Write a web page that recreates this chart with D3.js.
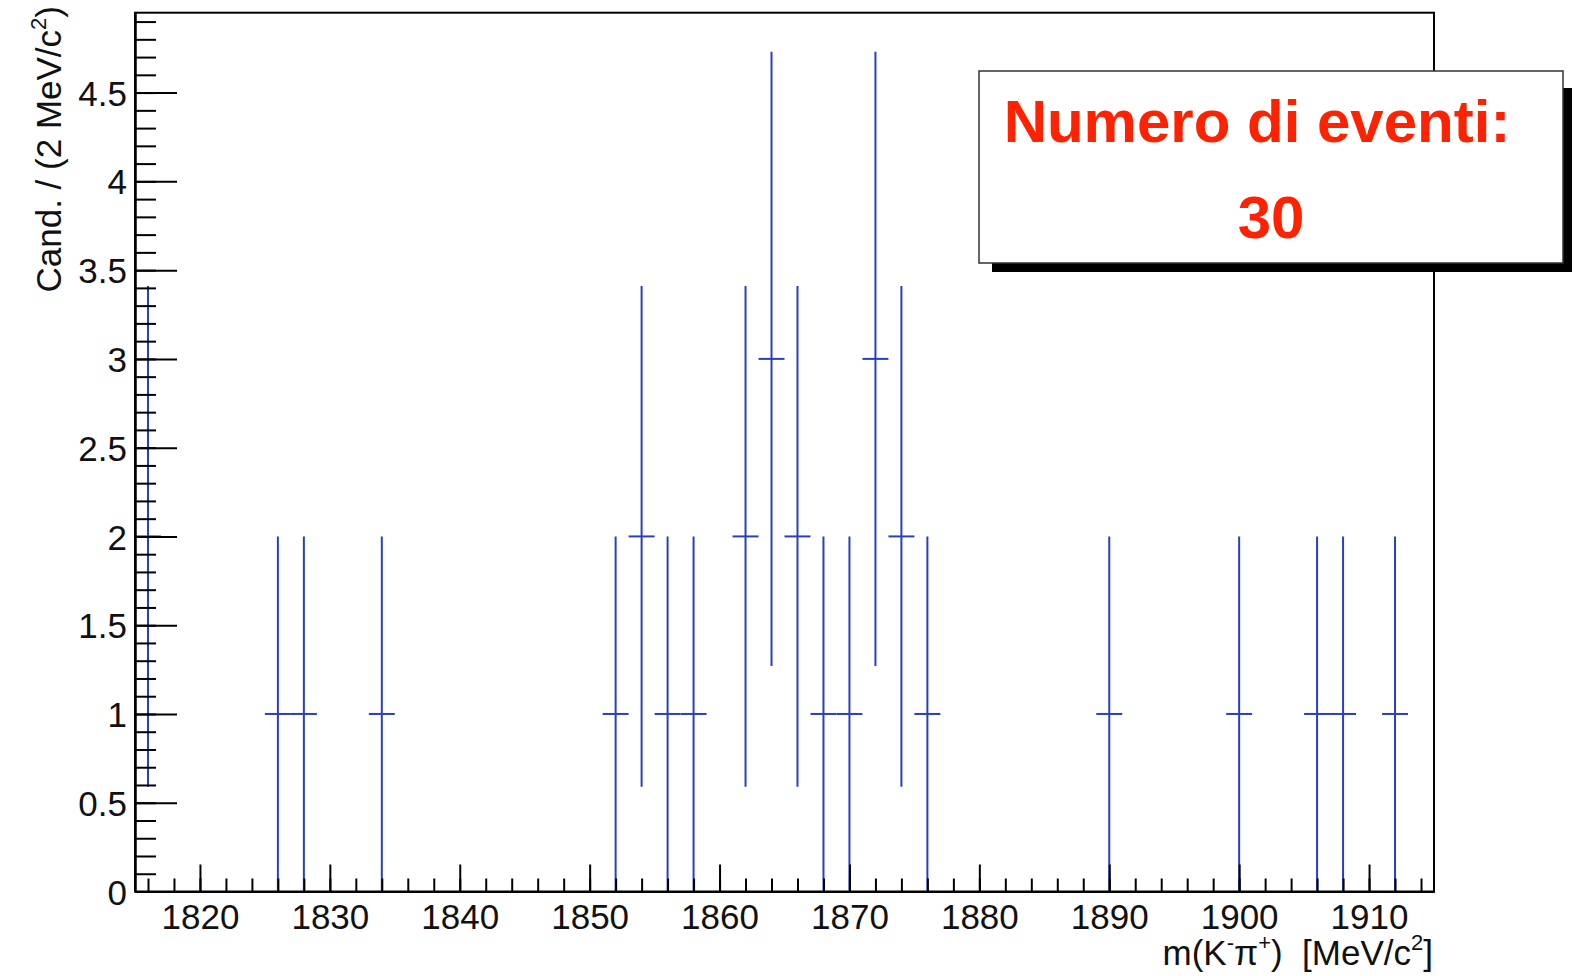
<!DOCTYPE html>
<html>
<head>
<meta charset="utf-8">
<title>Numero di eventi</title>
<style>
body {
  margin: 0;
  background-color: white;
}
svg {
  display: block;
  font-family: "Liberation Sans", Arial, sans-serif;
}
.axis path,
.axis line {
  fill: none;
  stroke: #000;
  stroke-width: 2px;
}
.axis text {
  font-family: "Liberation Sans", Arial, sans-serif;
  font-size: 35px;
  fill: #111;
}
.err {
  stroke: #2a3fc0;
  stroke-width: 2px;
}
</style>
<script src="https://d3js.org/d3.v7.min.js"></script>
</head>
<body>
<svg width="1585" height="976"></svg>
<script>
// bin centres (MeV/c^2), contents and errors
const binCenters = [1816, 1826, 1828, 1834, 1852, 1854, 1856, 1858, 1862, 1864, 1866,
                    1868, 1870, 1872, 1874, 1876, 1890, 1900, 1906, 1908, 1912];
const counts = [2, 1, 1, 1, 1, 2, 1, 1, 2, 3, 2, 1, 1, 3, 2, 1, 1, 1, 1, 1, 1];
const errors = [1.41, 1, 1, 1, 1, 1.41, 1, 1, 1.41, 1.73, 1.41, 1, 1, 1.73, 1.41,
                1, 1, 1, 1, 1, 1];
const binWidth = 2;

const xMajorTicks = [1820, 1830, 1840, 1850, 1860, 1870, 1880, 1890, 1900, 1910];
const yMajorTicks = [0, 0.5, 1, 1.5, 2, 2.5, 3, 3.5, 4, 4.5];
const legendLines = ['Numero di eventi:', '30'];

const svg = d3.select('svg');
svg.append('rect').attr('width', 1585).attr('height', 976).attr('fill', 'white');

const x = d3.scaleLinear().domain([1815, 1915]).range([135, 1434]);
const y = d3.scaleLinear().domain([0, 4.95]).range([891.5, 12.7]);

const data = binCenters.map((c, i) => ({ c: c, n: counts[i], e: errors[i] }));

// frame
svg.append('rect')
  .attr('x', x(1815)).attr('y', y(4.95))
  .attr('width', x(1915) - x(1815)).attr('height', y(0) - y(4.95))
  .attr('fill', 'none').attr('stroke', '#000').attr('stroke-width', 2);

// error bars
const g = svg.append('g');
g.selectAll('line.v').data(data).enter().append('line')
  .attr('class', 'err v')
  .attr('x1', d => x(d.c)).attr('x2', d => x(d.c))
  .attr('y1', d => y(Math.max(0, d.n - d.e))).attr('y2', d => y(d.n + d.e));
g.selectAll('line.h').data(data).enter().append('line')
  .attr('class', 'err h')
  .attr('x1', d => x(d.c - binWidth / 2)).attr('x2', d => x(d.c + binWidth / 2))
  .attr('y1', d => y(d.n)).attr('y2', d => y(d.n));

// x axis: minor then major ticks, pointing inward
svg.append('g').attr('class', 'axis')
  .attr('transform', `translate(0,${y(0)})`)
  .call(d3.axisBottom(x).tickValues(d3.range(1816, 1915, 2)).tickSize(-13).tickSizeOuter(0).tickFormat(''));
const xa = svg.append('g').attr('class', 'axis')
  .attr('transform', `translate(0,${y(0)})`)
  .call(d3.axisBottom(x).tickValues(xMajorTicks).tickSize(-27).tickSizeOuter(0).tickFormat(d3.format('d')));
xa.selectAll('text').attr('y', 37).attr('dy', 0);

// y axis
svg.append('g').attr('class', 'axis')
  .attr('transform', `translate(${x(1815)},0)`)
  .call(d3.axisLeft(y).tickValues(d3.range(0, 50).map(i => i / 10)).tickSize(-21).tickSizeOuter(0).tickFormat(''));
const ya = svg.append('g').attr('class', 'axis')
  .attr('transform', `translate(${x(1815)},0)`)
  .call(d3.axisLeft(y).tickValues(yMajorTicks).tickSize(-42).tickSizeOuter(0).tickFormat(d3.format('')));
ya.selectAll('text').attr('x', -8).attr('dy', '0.36em');

// axis titles
const xt = svg.append('text')
  .attr('x', 1433).attr('y', 965)
  .attr('text-anchor', 'end')
  .style('white-space', 'pre')
  .attr('font-size', 35).attr('fill', '#111');
xt.append('tspan').text('m(K');
xt.append('tspan').attr('font-size', 22).attr('dy', -15).text('-');
xt.append('tspan').attr('dy', 15).text('π');
xt.append('tspan').attr('font-size', 22).attr('dy', -15).text('+');
xt.append('tspan').attr('dy', 15).text(')  [MeV/c');
xt.append('tspan').attr('font-size', 22).attr('dy', -15).text('2');
xt.append('tspan').attr('dy', 15).text(']');

const yt = svg.append('text')
  .attr('transform', 'translate(61,6) rotate(-90)')
  .attr('text-anchor', 'end')
  .attr('font-size', 35).attr('fill', '#111');
yt.append('tspan').text('Cand. / (2 MeV/c');
yt.append('tspan').attr('font-size', 22).attr('dy', -15).text('2');
yt.append('tspan').attr('dy', 15).text(')');

// legend box with shadow
const box = { x0: 979, y0: 71, x1: 1563, y1: 263 };
svg.append('rect')
  .attr('x', box.x0 + 13).attr('y', box.y0 + 17)
  .attr('width', box.x1 - box.x0 + 9 - 13).attr('height', box.y1 - box.y0 + 9 - 17)
  .attr('fill', '#000');
svg.append('rect')
  .attr('x', box.x0).attr('y', box.y0)
  .attr('width', box.x1 - box.x0).attr('height', box.y1 - box.y0)
  .attr('fill', 'white').attr('stroke', '#333').attr('stroke-width', 1.5);
svg.selectAll('text.leg').data(legendLines).enter().append('text')
  .attr('class', 'leg')
  .attr('x', (d, i) => (box.x0 + box.x1) / 2 - (i === 0 ? 14 : 0))
  .attr('y', (d, i) => 142 + i * 96)
  .attr('text-anchor', 'middle')
  .attr('font-size', 60).attr('font-weight', 'bold')
  .attr('fill', '#ff2200')
  .text(d => d);
</script>
</body>
</html>
